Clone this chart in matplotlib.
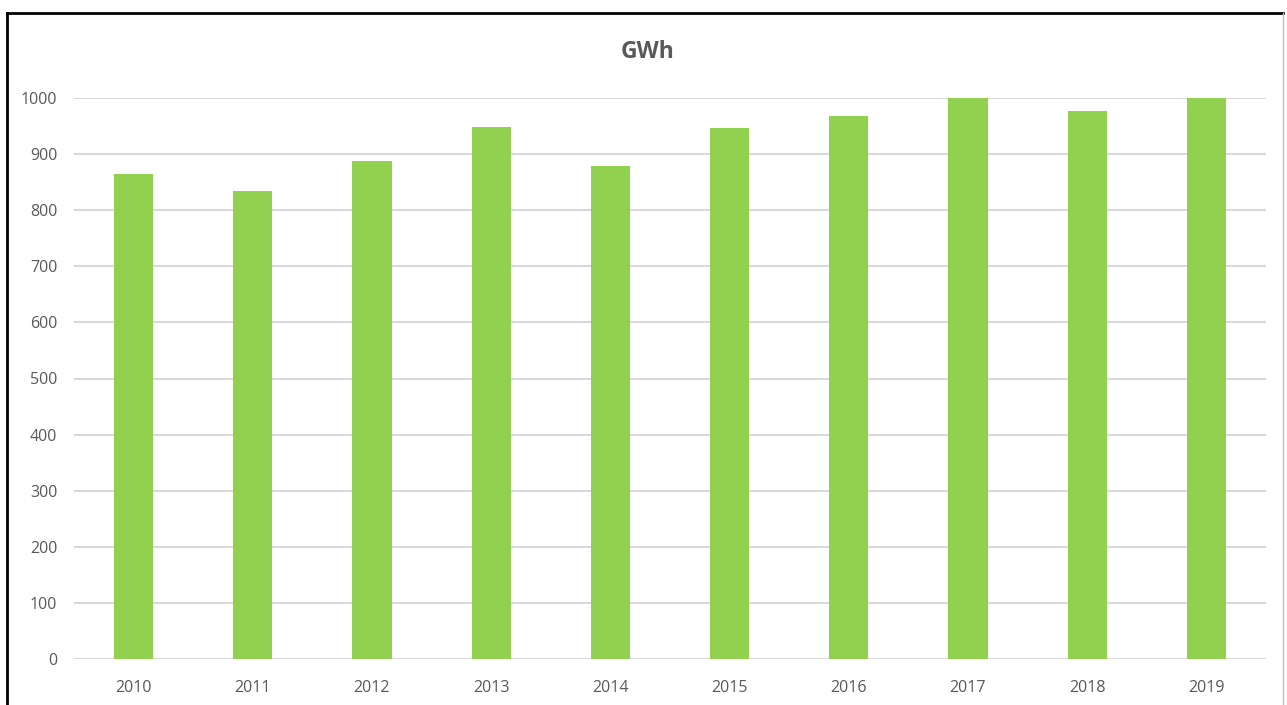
import matplotlib
matplotlib.use("Agg")
import matplotlib.pyplot as plt
from matplotlib.lines import Line2D

# data
years = ["2010", "2011", "2012", "2013", "2014", "2015", "2016", "2017", "2018", "2019"]
gwh = [865, 834, 888, 948, 879, 947, 968, 1004, 976, 1002]
yticks = [0, 100, 200, 300, 400, 500, 600, 700, 800, 900, 1000]

grey_txt = "#595959"
plt.rcParams["font.family"] = ["Open Sans", "DejaVu Sans"]

fig = plt.figure(figsize=(12.87, 7.05), dpi=100)
ax = fig.add_axes([74 / 1287, 1 - 659 / 705, (1266 - 74) / 1287, (659 - 98) / 705])

ax.bar(range(len(years)), gwh, width=0.33, color="#92D050", zorder=3)
ax.set_xlim(-0.5, len(years) - 0.5)
ax.set_ylim(0, 1000)
ax.set_yticks(yticks)
ax.set_xticks(range(len(years)))
ax.set_xticklabels(years)

ax.grid(axis="y", color="#D9D9D9", linewidth=1.5, zorder=0)
ax.set_axisbelow(True)
for s in ax.spines.values():
    s.set_visible(False)
ax.tick_params(length=0, labelsize=11.5, colors=grey_txt)
ax.tick_params(axis="x", pad=15)
ax.tick_params(axis="y", pad=12)

fig.text(648 / 1287, 1 - 52 / 705, "GWh", ha="center", va="center",
         fontsize=16.5, fontweight="bold", color=grey_txt)

# chart frame (black left/top, light right)
x0, y0, x1 = 7 / 1287, 1 - 13 / 705, 1283 / 1287
fig.add_artist(Line2D([x0, x0], [0, y0], color="black", lw=2, transform=fig.transFigure))
fig.add_artist(Line2D([x0, x1], [y0, y0], color="black", lw=2, transform=fig.transFigure))
fig.add_artist(Line2D([x1, x1], [0, y0], color="#BFBFBF", lw=1, transform=fig.transFigure))

fig.savefig("out.png", dpi=100)
